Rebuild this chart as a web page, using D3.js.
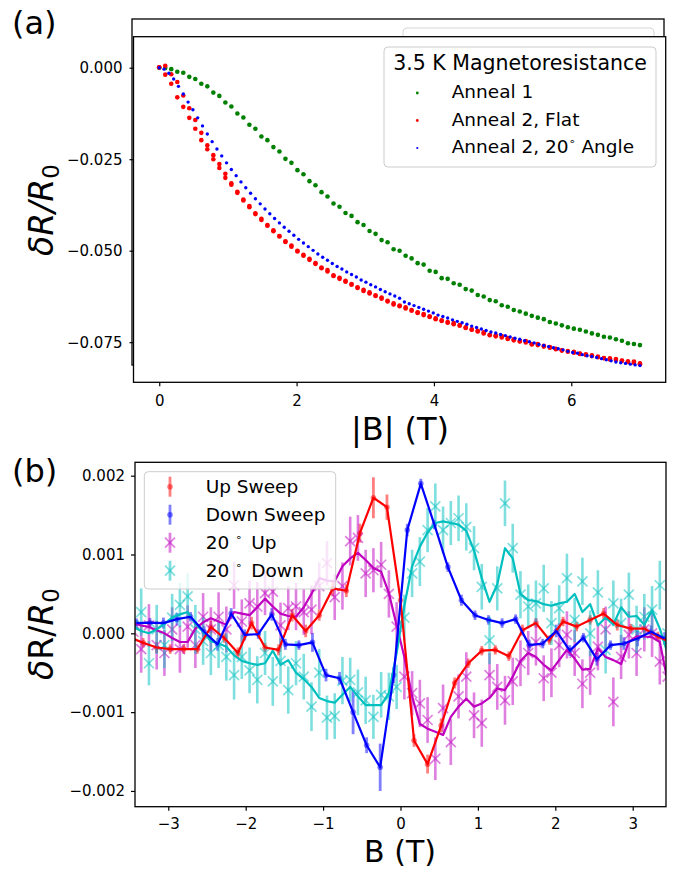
<!DOCTYPE html>
<html>
<head>
<meta charset="utf-8">
<script src="https://cdn.jsdelivr.net/npm/d3@7"></script>
<style>
  body { margin: 0; background: #fff; }
  text { font-family: "DejaVu Sans", sans-serif; }
</style>
</head>
<body>
<svg id="fig" width="674" height="869"></svg>
<script>
// ---------- panel (a): 3.5 K magnetoresistance ----------
const fieldA = [0, 0.0875, 0.175, 0.2625, 0.35, 0.4375, 0.525, 0.6125, 0.7, 0.7875,
  0.875, 0.9625, 1.05, 1.1375, 1.225, 1.3125, 1.4, 1.4875, 1.575, 1.6625,
  1.75, 1.8375, 1.925, 2.0125, 2.1, 2.1875, 2.275, 2.3625, 2.45, 2.5375,
  2.625, 2.7125, 2.8, 2.8875, 2.975, 3.0625, 3.15, 3.2375, 3.325, 3.4125,
  3.5, 3.5875, 3.675, 3.7625, 3.85, 3.9375, 4.025, 4.1125, 4.2, 4.2875,
  4.375, 4.4625, 4.55, 4.6375, 4.725, 4.8125, 4.9, 4.9875, 5.075, 5.1625,
  5.25, 5.3375, 5.425, 5.5125, 5.6, 5.6875, 5.775, 5.8625, 5.95, 6.0375,
  6.125, 6.2125, 6.3, 6.3875, 6.475, 6.5625, 6.65, 6.7375, 6.825, 6.9125, 7.0];

const anneal1 = [0.0000, -0.0001, -0.0004, -0.0011, -0.0014, -0.0025, -0.0031, -0.0044, -0.0051, -0.0068,
  -0.0077, -0.0095, -0.0106, -0.0125, -0.0136, -0.0156, -0.0167, -0.0188, -0.0198, -0.0217,
  -0.0229, -0.0249, -0.0260, -0.0280, -0.0291, -0.0310, -0.0321, -0.0340, -0.0352, -0.0371,
  -0.0380, -0.0397, -0.0405, -0.0422, -0.0430, -0.0446, -0.0454, -0.0471, -0.0477, -0.0496,
  -0.0500, -0.0514, -0.0521, -0.0534, -0.0538, -0.0555, -0.0558, -0.0575, -0.0577, -0.0589,
  -0.0593, -0.0605, -0.0609, -0.0621, -0.0625, -0.0635, -0.0638, -0.0649, -0.0653, -0.0662,
  -0.0666, -0.0672, -0.0678, -0.0683, -0.0687, -0.0695, -0.0699, -0.0704, -0.0709, -0.0713,
  -0.0716, -0.0721, -0.0726, -0.0730, -0.0735, -0.0737, -0.0742, -0.0746, -0.0753, -0.0755, -0.0758];

const flatSweep1 = [0.0001, 0.0005, -0.0018, -0.0039, -0.0076, -0.0111, -0.0143, -0.0178, -0.0212, -0.0239,
  -0.0263, -0.0290, -0.0316, -0.0339, -0.0360, -0.0378, -0.0398, -0.0413, -0.0430, -0.0444,
  -0.0460, -0.0474, -0.0486, -0.0500, -0.0511, -0.0522, -0.0534, -0.0546, -0.0553, -0.0567,
  -0.0574, -0.0582, -0.0591, -0.0600, -0.0607, -0.0614, -0.0622, -0.0628, -0.0637, -0.0644,
  -0.0650, -0.0655, -0.0662, -0.0668, -0.0673, -0.0679, -0.0685, -0.0690, -0.0695, -0.0698,
  -0.0703, -0.0709, -0.0715, -0.0719, -0.0723, -0.0730, -0.0731, -0.0733, -0.0739, -0.0742,
  -0.0747, -0.0747, -0.0755, -0.0755, -0.0760, -0.0763, -0.0768, -0.0772, -0.0774, -0.0776,
  -0.0781, -0.0783, -0.0786, -0.0789, -0.0793, -0.0794, -0.0796, -0.0800, -0.0802, -0.0803, -0.0808];

const flatSweep2 = [0.0001, -0.0019, -0.0044, -0.0081, -0.0107, -0.0137, -0.0167, -0.0198, -0.0223, -0.0250,
  -0.0274, -0.0301, -0.0320, -0.0342, -0.0363, -0.0381, -0.0400, -0.0416, -0.0432, -0.0447,
  -0.0461, -0.0476, -0.0489, -0.0502, -0.0514, -0.0525, -0.0536, -0.0548, -0.0557, -0.0569,
  -0.0577, -0.0585, -0.0593, -0.0602, -0.0610, -0.0617, -0.0624, -0.0631, -0.0639, -0.0647,
  -0.0652, -0.0658, -0.0664, -0.0670, -0.0676, -0.0681, -0.0687, -0.0692, -0.0697, -0.0701,
  -0.0705, -0.0711, -0.0716, -0.0721, -0.0726, -0.0731, -0.0734, -0.0737, -0.0741, -0.0745,
  -0.0748, -0.0751, -0.0756, -0.0758, -0.0762, -0.0765, -0.0769, -0.0773, -0.0776, -0.0779,
  -0.0782, -0.0785, -0.0788, -0.0791, -0.0794, -0.0797, -0.0799, -0.0801, -0.0804, -0.0806, -0.0810];

const fieldAngle = [0, 0.07, 0.14, 0.21, 0.28, 0.35, 0.42, 0.49, 0.56, 0.63,
  0.70, 0.77, 0.84, 0.91, 0.98, 1.05, 1.12, 1.19, 1.26, 1.33,
  1.40, 1.47, 1.54, 1.61, 1.68, 1.75, 1.82, 1.89, 1.96, 2.03,
  2.10, 2.17, 2.24, 2.31, 2.38, 2.45, 2.52, 2.59, 2.66, 2.73,
  2.80, 2.87, 2.94, 3.01, 3.08, 3.15, 3.22, 3.29, 3.36, 3.43,
  3.50, 3.57, 3.64, 3.71, 3.78, 3.85, 3.92, 3.99, 4.06, 4.13,
  4.20, 4.27, 4.34, 4.41, 4.48, 4.55, 4.62, 4.69, 4.76, 4.83,
  4.90, 4.97, 5.04, 5.11, 5.18, 5.25, 5.32, 5.39, 5.46, 5.53,
  5.60, 5.67, 5.74, 5.81, 5.88, 5.95, 6.02, 6.09, 6.16, 6.23,
  6.30, 6.37, 6.44, 6.51, 6.58, 6.65, 6.72, 6.79, 6.86, 6.93, 7.00];

const angle20 = [0.0000, -0.0004, -0.0015, -0.0031, -0.0051, -0.0072, -0.0094, -0.0115, -0.0137, -0.0159,
  -0.0181, -0.0202, -0.0222, -0.0241, -0.0260, -0.0278, -0.0295, -0.0312, -0.0328, -0.0343,
  -0.0358, -0.0372, -0.0386, -0.0399, -0.0412, -0.0424, -0.0436, -0.0447, -0.0458, -0.0469,
  -0.0479, -0.0489, -0.0499, -0.0509, -0.0518, -0.0526, -0.0535, -0.0543, -0.0550, -0.0558,
  -0.0565, -0.0572, -0.0580, -0.0586, -0.0593, -0.0599, -0.0606, -0.0612, -0.0618, -0.0624,
  -0.0630, -0.0640, -0.0645, -0.0650, -0.0655, -0.0660, -0.0665, -0.0670, -0.0676, -0.0680,
  -0.0684, -0.0689, -0.0693, -0.0697, -0.0701, -0.0706, -0.0710, -0.0714, -0.0718, -0.0722,
  -0.0725, -0.0729, -0.0732, -0.0736, -0.0739, -0.0742, -0.0746, -0.0749, -0.0752, -0.0756,
  -0.0759, -0.0762, -0.0765, -0.0768, -0.0771, -0.0775, -0.0778, -0.0780, -0.0784, -0.0787,
  -0.0789, -0.0792, -0.0795, -0.0798, -0.0801, -0.0804, -0.0806, -0.0808, -0.0810, -0.0812, -0.0814];

const ticksAx = [0, 2, 4, 6];
const ticksAy = [0, -0.025, -0.05, -0.075];

// ---------- panel (b): sweeps, values in units of 1e-3 ----------
const fieldUp = [-3.5, -3.325, -3.15, -2.975, -2.8, -2.625, -2.45, -2.275, -2.1, -1.925,
  -1.75, -1.575, -1.4, -1.225, -1.05, -0.875, -0.7, -0.525, -0.35, -0.175,
  0, 0.175, 0.35, 0.525, 0.7, 0.875, 1.05, 1.225, 1.4, 1.575,
  1.75, 1.925, 2.1, 2.275, 2.45, 2.625, 2.8, 2.975, 3.15, 3.325, 3.5];
const upSweep = [-0.05, -0.12, -0.18, -0.20, -0.20, -0.20, 0.08, -0.06, -0.25, 0.13,
  -0.18, -0.21, 0.23, 0.03, 0.23, 0.57, 0.54, 1.27, 1.72, 1.60,
  0.42, -1.36, -1.66, -1.17, -0.63, -0.38, -0.22, -0.21, -0.29, 0.04,
  0.13, -0.085, 0.15, 0.085, 0.17, 0.25, 0.105, 0.06, 0.06, -0.04, -0.12];
const upErr = [0.06, 0.06, 0.07, 0.06, 0.06, 0.06, 0.08, 0.06, 0.07, 0.08,
  0.06, 0.07, 0.08, 0.08, 0.07, 0.10, 0.08, 0.12, 0.26, 0.16,
  0.10, 0.08, 0.12, 0.09, 0.07, 0.06, 0.06, 0.06, 0.06, 0.07,
  0.06, 0.06, 0.06, 0.06, 0.06, 0.07, 0.07, 0.06, 0.06, 0.06, 0.06];

const fieldDown = [-3.4125, -3.2375, -3.0625, -2.8875, -2.7125, -2.5375, -2.3625, -2.1875, -2.0125, -1.8375,
  -1.6625, -1.4875, -1.3125, -1.1375, -0.9625, -0.7875, -0.6125, -0.4375, -0.2625, -0.0875,
  0.0875, 0.2625, 0.4375, 0.6125, 0.7875, 0.9625, 1.1375, 1.3125, 1.4875, 1.6625,
  1.8375, 2.0125, 2.1875, 2.3625, 2.5375, 2.7125, 2.8875, 3.0625, 3.2375, 3.4125];
const downSweep = [0.13, 0.135, 0.13, 0.18, 0.21, 0.02, -0.14, 0.25, -0.02, -0.01,
  0.24, -0.14, -0.15, -0.115, -0.53, -0.57, -1.0, -1.42, -1.70, -0.53,
  1.31, 1.90, 1.38, 0.84, 0.42, 0.23, 0.17, 0.13, 0.18, -0.15,
  -0.13, 0.03, -0.22, -0.055, -0.33, -0.15, -0.13, -0.065, 0.02, -0.065];
const downErr = [0.06, 0.06, 0.07, 0.08, 0.06, 0.07, 0.08, 0.07, 0.07, 0.06,
  0.08, 0.07, 0.06, 0.12, 0.08, 0.08, 0.28, 0.10, 0.30, 0.10,
  0.08, 0.06, 0.06, 0.06, 0.07, 0.06, 0.06, 0.06, 0.06, 0.07,
  0.06, 0.08, 0.07, 0.06, 0.08, 0.06, 0.08, 0.10, 0.08, 0.08];

const fieldTilt = [-3.45, -3.35, -3.25, -3.15, -3.05, -2.95, -2.85, -2.75, -2.65, -2.55,
  -2.45, -2.35, -2.25, -2.15, -2.05, -1.95, -1.85, -1.75, -1.65, -1.55,
  -1.45, -1.35, -1.25, -1.15, -1.05, -0.95, -0.85, -0.75, -0.65, -0.55,
  -0.45, -0.35, -0.25, -0.15, -0.05, 0.05, 0.15, 0.25, 0.35, 0.45,
  0.55, 0.65, 0.75, 0.85, 0.95, 1.05, 1.15, 1.25, 1.35, 1.45,
  1.55, 1.65, 1.75, 1.85, 1.95, 2.05, 2.15, 2.25, 2.35, 2.45,
  2.55, 2.65, 2.75, 2.85, 2.95, 3.05, 3.15, 3.25, 3.35, 3.45];

const tiltUp = [0.02, -0.20, 0.10, -0.15, -0.25, 0.05, -0.20, 0.085, -0.15, 0.21,
  0.05, 0.21, 0.05, 0.61, 0.15, 0.38, 0.34, 0.51, 0.53, 0.10,
  0.32, 0.34, 0.27, 0.30, 0.60, 0.89, 0.46, 0.60, 1.17, 1.21,
  0.76, 0.80, 0.87, 0.50, 0.085, -0.55, -0.76, -0.89, -1.10, -1.59,
  -0.95, -1.38, -0.80, -0.55, -1.04, -1.14, -0.53, -0.68, -0.85, -0.61,
  -0.38, -0.25, -0.11, -0.57, -0.50, -0.15, -0.02, -0.25, -0.64, -0.50,
  -0.17, 0.05, -0.87, -0.30, -0.02, -0.25, 0.05, 0.00, -0.36, -0.55];
const tiltUpErr = [0.28, 0.30, 0.27, 0.31, 0.29, 0.28, 0.30, 0.27, 0.29, 0.30,
  0.28, 0.31, 0.29, 0.30, 0.28, 0.29, 0.31, 0.28, 0.30, 0.29,
  0.28, 0.30, 0.29, 0.31, 0.30, 0.28, 0.29, 0.30, 0.31, 0.29,
  0.30, 0.28, 0.29, 0.30, 0.31, 0.29, 0.28, 0.30, 0.29, 0.27,
  0.30, 0.29, 0.28, 0.31, 0.29, 0.30, 0.28, 0.29, 0.31, 0.30,
  0.29, 0.28, 0.30, 0.29, 0.31, 0.28, 0.30, 0.29, 0.31, 0.28,
  0.30, 0.29, 0.31, 0.28, 0.30, 0.29, 0.28, 0.30, 0.29, 0.30];
const tiltUpLine = [0.13, 0.10, 0.08, 0.04, 0.00, -0.06, -0.11, -0.11, 0.06, 0.14,
  0.19, 0.15, 0.11, 0.27, 0.25, 0.23, 0.33, 0.44, 0.34, 0.25,
  0.22, 0.21, 0.33, 0.50, 0.70, 0.67, 0.66, 0.85, 0.95, 1.02,
  0.93, 0.83, 0.78, 0.51, 0.10, -0.30, -0.80, -1.15, -1.21, -1.25,
  -1.29, -1.06, -0.93, -0.83, -0.93, -0.89, -0.82, -0.70, -0.72, -0.55,
  -0.35, -0.25, -0.30, -0.40, -0.47, -0.34, -0.21, -0.32, -0.46, -0.45,
  -0.19, -0.30, -0.34, -0.39, -0.11, -0.04, -0.04, -0.05, -0.11, -0.60];

const tiltDown = [0.10, 0.27, -0.38, 0.05, -0.15, 0.20, 0.36, 0.47, 0.05, -0.10,
  -0.25, -0.15, -0.30, -0.53, -0.30, -0.47, -0.59, -0.25, -0.61, -0.35,
  -0.72, -0.38, -0.55, -0.93, -0.50, -1.07, -1.05, -0.60, -0.59, -0.75,
  -0.85, -1.06, -0.78, -0.80, -0.68, 0.20, 0.76, 0.91, 1.31, 1.61,
  1.31, 1.40, 1.46, 1.35, 1.08, 0.59, -0.09, 0.57, 1.65, 1.08,
  0.49, 0.34, 0.38, 0.57, 0.13, 0.32, 0.70, 0.17, 0.66, 0.00,
  0.52, -0.21, 0.38, 0.13, 0.49, 0.05, 0.21, 0.30, 0.61, 0.00];
const tiltDownErr = [0.29, 0.30, 0.28, 0.31, 0.29, 0.30, 0.28, 0.29, 0.31, 0.30,
  0.28, 0.29, 0.30, 0.31, 0.28, 0.29, 0.30, 0.28, 0.31, 0.29,
  0.30, 0.28, 0.29, 0.31, 0.30, 0.28, 0.29, 0.30, 0.28, 0.29,
  0.30, 0.28, 0.29, 0.30, 0.28, 0.29, 0.30, 0.31, 0.28, 0.29,
  0.30, 0.28, 0.29, 0.30, 0.28, 0.29, 0.30, 0.28, 0.29, 0.31,
  0.30, 0.28, 0.29, 0.30, 0.28, 0.29, 0.31, 0.28, 0.30, 0.29,
  0.28, 0.30, 0.29, 0.31, 0.28, 0.30, 0.29, 0.30, 0.31, 0.29];
const tiltDownLine = [0.09, 0.03, 0.00, 0.05, 0.12, 0.20, 0.24, 0.27, 0.12, 0.02,
  -0.10, -0.13, -0.17, -0.28, -0.35, -0.38, -0.40, -0.38, -0.22, -0.40,
  -0.34, -0.50, -0.58, -0.68, -0.82, -0.86, -0.88, -0.78, -0.68, -0.80,
  -0.91, -0.91, -0.91, -0.76, -0.25, 0.35, 0.85, 1.10, 1.28, 1.40,
  1.42, 1.40, 1.38, 1.30, 1.05, 0.70, 0.40, 0.62, 1.08, 0.95,
  0.50, 0.42, 0.41, 0.37, 0.35, 0.38, 0.40, 0.50, 0.27, 0.37,
  0.10, 0.20, 0.11, 0.33, 0.21, 0.22, 0.11, 0.29, 0.06, -0.25];

const ticksBx = [-3, -2, -1, 0, 1, 2, 3];
const ticksBy = [-2, -1, 0, 1, 2];

const svg = d3.select('#fig');
const fmt3 = d3.format('.3f');

function styleAxis(g) {
  g.select('.domain').remove();
  g.selectAll('line').attr('stroke', '#000').attr('stroke-width', 1.2);
  g.selectAll('text').attr('fill', '#000');
  g.attr('font-size', 15).attr('font-family', 'DejaVu Sans');
}

// ===== panel (a) =====
const xA = d3.scaleLinear().domain([-0.375, 7.375]).range([133.5, 665.7]);
const yA = d3.scaleLinear().domain([0.00847, -0.08596]).range([36.7, 382.3]);

// stray axes frame left behind the panel, with its legend box
svg.append('rect').attr('x', 132).attr('y', 19).attr('width', 532).attr('height', 346)
  .attr('fill', '#fff').attr('stroke', '#000').attr('stroke-width', 1.3);
svg.append('rect').attr('x', 403).attr('y', 28).attr('width', 251).attr('height', 120).attr('rx', 4)
  .attr('fill', '#fff').attr('stroke', '#d6d6d6');

const gA = svg.append('g');
gA.append('rect').attr('x', 133.5).attr('y', 36.7).attr('width', 532.2).attr('height', 345.6).attr('fill', '#fff');

function dots(g, xs, ys, color, r) {
  g.append('g').selectAll('circle').data(xs).join('circle')
    .attr('cx', d => xA(d)).attr('cy', (d, i) => yA(ys[i])).attr('r', r).attr('fill', color);
}
dots(gA, fieldA, anneal1, '#008000', 2.3);
dots(gA, fieldA, flatSweep1, '#ff0000', 2.3);
dots(gA, fieldA, flatSweep2, '#ff0000', 2.3);
dots(gA, fieldAngle, angle20, '#0000ff', 1.7);

gA.append('g').attr('transform', 'translate(0,382.3)')
  .call(d3.axisBottom(xA).tickValues(ticksAx).tickSize(4).tickPadding(9).tickFormat(d3.format('d')))
  .call(styleAxis);
gA.append('g').attr('transform', 'translate(133.5,0)')
  .call(d3.axisLeft(yA).tickValues(ticksAy).tickSize(4).tickPadding(7).tickFormat(fmt3))
  .call(styleAxis);

// legend (a)
const legA = gA.append('g');
legA.append('rect').attr('x', 384).attr('y', 47).attr('width', 272).attr('height', 120).attr('rx', 4)
  .attr('fill', '#fff').attr('fill-opacity', 0.8).attr('stroke', '#cccccc');
legA.append('text').attr('x', 520).attr('y', 70).attr('text-anchor', 'middle').attr('font-size', 20.5)
  .text('3.5 K Magnetoresistance');
const legAItems = [
  { label: 'Anneal 1', color: '#008000', r: 1.4 },
  { label: 'Anneal 2, Flat', color: '#ff0000', r: 1.4 },
  { label: 'Anneal 2, 20', color: '#0000ff', r: 1.1, deg: ' Angle' }
];
legAItems.forEach((d, i) => {
  const yy = 98 + i * 27.5;
  legA.append('circle').attr('cx', 417.3).attr('cy', yy - 5).attr('r', d.r).attr('fill', d.color);
  const t = legA.append('text').attr('x', 451.7).attr('y', yy).attr('font-size', 18.5).text(d.label);
  if (d.deg) {
    t.append('tspan').attr('font-size', 11).attr('dy', -8).text('\u2218');
    t.append('tspan').attr('dy', 8).text(d.deg);
  }
});

gA.append('rect').attr('x', 133.5).attr('y', 36.7).attr('width', 532.2).attr('height', 345.6)
  .attr('fill', 'none').attr('stroke', '#000').attr('stroke-width', 1.3);

svg.append('text').attr('x', 12).attr('y', 34).attr('font-size', 32).text('(a)');
svg.append('text').attr('x', 400).attr('y', 440).attr('text-anchor', 'middle').attr('font-size', 32).text('|B| (T)');
const ylA = svg.append('text').attr('transform', 'translate(53,210) rotate(-90)')
  .attr('text-anchor', 'middle').attr('font-size', 33).attr('font-style', 'italic');
ylA.append('tspan').text('\u03b4R/R');
ylA.append('tspan').attr('font-size', 23).attr('font-style', 'normal').attr('dy', 6).text('0');

// ===== panel (b) =====
const xB = d3.scaleLinear().domain([-3.43, 3.43]).range([135, 666]);
const yB = d3.scaleLinear().domain([2.17, -2.2]).range([462.3, 806.7]);

svg.append('clipPath').attr('id', 'clipB').append('rect')
  .attr('x', 135).attr('y', 462.3).attr('width', 531).attr('height', 344.4);
const gB = svg.append('g');
const plotB = gB.append('g').attr('clip-path', 'url(#clipB)');

function errBars(xs, ys, es, color, width) {
  plotB.append('g').selectAll('line').data(xs).join('line')
    .attr('x1', d => xB(d)).attr('x2', d => xB(d))
    .attr('y1', (d, i) => yB(ys[i] - es[i])).attr('y2', (d, i) => yB(ys[i] + es[i]))
    .attr('stroke', color).attr('stroke-opacity', 0.5).attr('stroke-width', width);
}
function dotMarks(xs, ys, color) {
  plotB.append('g').selectAll('circle').data(xs).join('circle')
    .attr('cx', d => xB(d)).attr('cy', (d, i) => yB(ys[i])).attr('r', 2.8)
    .attr('fill', color).attr('fill-opacity', 0.5);
}
function crossMarks(xs, ys, color) {
  const s = 5;
  plotB.append('g').selectAll('path').data(xs).join('path')
    .attr('d', (d, i) => {
      const cx = xB(d), cy = yB(ys[i]);
      return `M${cx - s},${cy - s}L${cx + s},${cy + s}M${cx - s},${cy + s}L${cx + s},${cy - s}`;
    })
    .attr('stroke', color).attr('stroke-opacity', 0.5).attr('stroke-width', 1.7).attr('fill', 'none');
}
function lineOf(xs, ys, color) {
  plotB.append('path').datum(xs)
    .attr('d', d3.line().x(d => xB(d)).y((d, i) => yB(ys[i])))
    .attr('fill', 'none').attr('stroke', color).attr('stroke-width', 2.2).attr('stroke-linejoin', 'round');
}

errBars(fieldUp, upSweep, upErr, '#ff0000', 2.8);
dotMarks(fieldUp, upSweep, '#ff0000');
errBars(fieldDown, downSweep, downErr, '#0000ff', 2.8);
dotMarks(fieldDown, downSweep, '#0000ff');
errBars(fieldTilt, tiltUp, tiltUpErr, '#bf00bf', 2.6);
crossMarks(fieldTilt, tiltUp, '#bf00bf');
errBars(fieldTilt, tiltDown, tiltDownErr, '#00bfbf', 2.6);
crossMarks(fieldTilt, tiltDown, '#00bfbf');
lineOf(fieldTilt, tiltUpLine, '#bf00bf');
lineOf(fieldTilt, tiltDownLine, '#00bfbf');
lineOf(fieldUp, upSweep, '#ff0000');
lineOf(fieldDown, downSweep, '#0000ff');

gB.append('g').attr('transform', 'translate(0,806.7)')
  .call(d3.axisBottom(xB).tickValues(ticksBx).tickSize(4).tickPadding(8).tickFormat(d3.format('d')))
  .call(styleAxis);
gB.append('g').attr('transform', 'translate(135,0)')
  .call(d3.axisLeft(yB).tickValues(ticksBy).tickSize(4).tickPadding(6).tickFormat(d => fmt3(d / 1000)))
  .call(styleAxis);

// legend (b)
const legB = gB.append('g');
legB.append('rect').attr('x', 144.3).attr('y', 471.7).attr('width', 191.4).attr('height', 117.3).attr('rx', 4)
  .attr('fill', '#fff').attr('fill-opacity', 0.8).attr('stroke', '#cccccc');
const legBItems = [
  { label: 'Up Sweep', color: '#ff0000', mark: 'dot' },
  { label: 'Down Sweep', color: '#0000ff', mark: 'dot' },
  { label: 'Up', color: '#bf00bf', mark: 'x', deg: true },
  { label: 'Down', color: '#00bfbf', mark: 'x', deg: true }
];
legBItems.forEach((d, i) => {
  const yy = 493.3 + i * 28;
  const my = yy - 6.6;
  legB.append('line').attr('x1', 170).attr('x2', 170).attr('y1', my - 10).attr('y2', my + 10)
    .attr('stroke', d.color).attr('stroke-opacity', 0.5).attr('stroke-width', 2.8);
  if (d.mark === 'dot') {
    legB.append('circle').attr('cx', 170).attr('cy', my).attr('r', 2.8).attr('fill', d.color).attr('fill-opacity', 0.5);
  } else {
    const s = 5;
    legB.append('path').attr('d', `M${170 - s},${my - s}L${170 + s},${my + s}M${170 - s},${my + s}L${170 + s},${my - s}`)
      .attr('stroke', d.color).attr('stroke-opacity', 0.5).attr('stroke-width', 1.7);
  }
  const t = legB.append('text').attr('x', 205.7).attr('y', yy).attr('font-size', 18.5);
  if (d.deg) {
    t.append('tspan').text('20 ');
    t.append('tspan').attr('font-size', 11).attr('dy', -8).text('\u2218');
    t.append('tspan').attr('dy', 8).text('\u2002' + d.label);
  } else {
    t.text(d.label);
  }
});

gB.append('rect').attr('x', 135).attr('y', 462.3).attr('width', 531).attr('height', 344.4)
  .attr('fill', 'none').attr('stroke', '#000').attr('stroke-width', 1.3);

svg.append('text').attr('x', 12).attr('y', 482).attr('font-size', 32).text('(b)');
svg.append('text').attr('x', 400).attr('y', 862).attr('text-anchor', 'middle').attr('font-size', 30).text('B (T)');
const ylB = svg.append('text').attr('transform', 'translate(53,634) rotate(-90)')
  .attr('text-anchor', 'middle').attr('font-size', 33);
ylB.append('tspan').attr('font-style', 'italic').text('\u03b4');
ylB.append('tspan').text('R/');
ylB.append('tspan').attr('font-style', 'italic').text('R');
ylB.append('tspan').attr('font-size', 23).attr('dy', 6).text('0');
</script>
</body>
</html>
